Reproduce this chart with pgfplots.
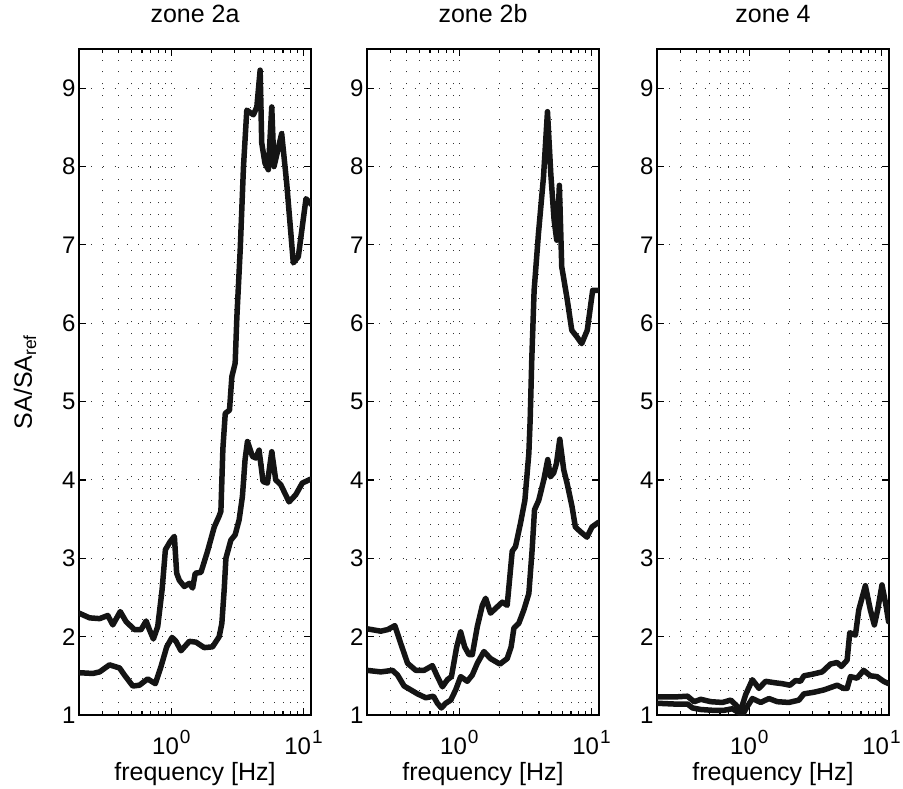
\documentclass[border=0pt]{standalone}
\usepackage{fontspec}
\setmainfont{Liberation Sans}
\usepackage{pgfplots}
\pgfplotsset{compat=1.18}
\newcommand{\pw}[1]{10\kern1pt\raisebox{11pt}{\fontsize{19}{19}\selectfont #1}}
\pgfplotsset{
  curve/.style={draw=black!92, line width=5.5pt, mark=none, line join=round, line cap=round},
  zonestyle/.style={
    scale only axis, width=232pt, height=666pt,
    xmin=0.2, xmax=11.4, ymin=1, ymax=9.5,
    xtick={1,10}, xticklabels={\pw{0},\pw{1}},
    minor xtick={0.3,0.4,0.5,0.6,0.7,0.8,0.9,2,3,4,5,6,7,8,9},
    ytick={1,2,3,4,5,6,7,8,9}, yticklabels={1,2,3,4,5,6,7,8,9},
    grid=both,
    major grid style={black!80, line width=0.9pt, dash pattern=on 0.9pt off 11pt},
    minor grid style={black!80, line width=0.9pt, dash pattern=on 0.9pt off 11pt},
    tick align=inside,
    major tick length=7pt, minor tick length=4pt,
    every tick/.style={black, line width=1.2pt},
    axis line style={line width=1.6pt},
    tick label style={font=\fontsize{24}{28}\selectfont},
    xticklabel style={anchor=base, yshift=-39pt},
    label style={font=\fontsize{25}{29}\selectfont},
    xlabel style={at={([yshift=-65pt]axis description cs:0.5,0)}, anchor=base},
    ylabel style={at={([xshift=-47pt]axis description cs:0,0.5)}, anchor=base},
    title style={font=\fontsize{25}{29}\selectfont, at={([yshift=20pt]axis description cs:0.5,1)}, anchor=base},
    xlabel={frequency [Hz]},
  }
}
\begin{document}
\begin{tikzpicture}
\path[use as bounding box] (0,0) rectangle (903pt,788pt);
% ---------------- zone 2a
\begin{semilogxaxis}[zonestyle, at={(79pt,73pt)}, anchor=south west, title={zone 2a},
  ylabel={SA/SA\textsubscript{ref}}]
\addplot[curve] coordinates {
(0.2,2.30)(0.2404,2.24)(0.2864,2.23)(0.3305,2.27)(0.3606,2.15)(0.4102,2.32)(0.4550,2.19)
(0.5260,2.09)(0.5902,2.09)(0.6442,2.20)(0.6823,2.09)(0.7311,1.97)(0.7889,2.13)(0.8511,2.60)
(0.9016,3.11)(0.9772,3.21)(1.054,3.28)(1.097,2.81)(1.148,2.72)(1.253,2.64)(1.368,2.68)
(1.449,2.62)(1.517,2.81)(1.675,2.82)(1.879,3.09)(2.113,3.40)(2.301,3.54)(2.371,3.60)
(2.455,4.40)(2.559,4.85)(2.754,4.89)(2.871,5.32)(3.041,5.49)(3.133,6.08)(3.319,6.93)
(3.516,8.00)(3.724,8.72)(4.178,8.66)(4.436,8.76)(4.699,9.23)(4.831,8.30)(5.117,8.04)
(5.420,7.96)(5.754,8.76)(5.984,8.00)(6.839,8.42)(7.464,7.79)(8.375,6.77)(9.141,6.85)
(10.45,7.59)(11.59,7.51)};
\addplot[curve] coordinates {
(0.2,1.54)(0.2547,1.53)(0.2864,1.55)(0.3404,1.64)(0.4055,1.60)(0.4416,1.51)(0.5105,1.37)
(0.5728,1.38)(0.6622,1.46)(0.7568,1.40)(0.8356,1.62)(0.9226,1.87)(1.012,1.99)(1.084,1.94)
(1.183,1.82)(1.368,1.94)(1.535,1.93)(1.774,1.86)(2.051,1.87)(2.301,2.00)(2.411,2.17)
(2.512,2.60)(2.588,3.00)(2.818,3.23)(3.041,3.30)(3.258,3.49)(3.451,3.79)(3.614,4.26)
(3.767,4.49)(4.111,4.30)(4.355,4.28)(4.613,4.38)(4.943,3.98)(5.333,3.96)(5.754,4.36)
(6.166,4.00)(6.730,3.94)(7.780,3.72)(8.730,3.81)(9.795,3.96)(11.32,4.01)};
\end{semilogxaxis}
% ---------------- zone 2b
\begin{semilogxaxis}[zonestyle, at={(367pt,73pt)}, anchor=south west, title={zone 2b}]
\addplot[curve] coordinates {
(0.2,2.10)(0.2547,2.07)(0.2864,2.09)(0.3251,2.14)(0.3606,1.91)(0.4055,1.66)(0.4677,1.57)
(0.5408,1.57)(0.6252,1.63)(0.6823,1.49)(0.7447,1.36)(0.8110,1.45)(0.8710,1.49)(0.9550,1.87)
(1.023,2.06)(1.097,1.87)(1.183,1.77)(1.253,1.77)(1.368,2.13)(1.493,2.40)(1.581,2.49)
(1.722,2.30)(1.879,2.36)(2.113,2.44)(2.301,2.40)(2.512,3.09)(2.661,3.15)(2.904,3.45)
(3.133,3.74)(3.357,4.34)(3.436,4.77)(3.532,5.53)(3.681,6.42)(3.972,7.15)(4.335,7.87)
(4.645,8.70)(4.920,7.91)(5.212,7.32)(5.458,7.06)(5.623,7.49)(5.715,7.76)(5.957,6.72)
(6.501,6.34)(7.096,5.91)(7.727,5.83)(8.433,5.74)(9.290,5.91)(10.21,6.42)(11.45,6.42)};
\addplot[curve] coordinates {
(0.2,1.57)(0.2547,1.55)(0.3119,1.57)(0.3404,1.51)(0.3819,1.37)(0.4295,1.32)(0.4819,1.27)
(0.5572,1.22)(0.6368,1.24)(0.6823,1.15)(0.7311,1.09)(0.7889,1.15)(0.8610,1.19)(0.9376,1.32)
(1.023,1.49)(1.148,1.43)(1.253,1.51)(1.368,1.66)(1.535,1.81)(1.722,1.72)(2.028,1.65)
(2.301,1.72)(2.466,1.87)(2.588,2.11)(2.818,2.17)(3.076,2.34)(3.357,2.55)(3.556,3.11)
(3.707,3.62)(3.990,3.74)(4.355,4.00)(4.667,4.26)(4.887,4.04)(5.176,4.09)(5.433,4.21)
(5.754,4.52)(6.166,4.13)(6.531,3.96)(7.129,3.66)(7.551,3.40)(8.241,3.34)(9.247,3.27)
(10.09,3.40)(11.32,3.46)};
\end{semilogxaxis}
% ---------------- zone 4
\begin{semilogxaxis}[zonestyle, at={(657pt,73pt)}, anchor=south west, title={zone 4}]
\addplot[curve] coordinates {
(0.2,1.23)(0.2698,1.23)(0.3404,1.24)(0.3819,1.17)(0.4295,1.20)(0.5105,1.17)(0.6252,1.16)
(0.7228,1.19)(0.7889,1.13)(0.8610,1.06)(0.9376,1.26)(1.054,1.45)(1.183,1.34)(1.327,1.43)
(1.581,1.41)(1.774,1.40)(2.028,1.38)(2.239,1.44)(2.438,1.43)(2.588,1.50)(2.985,1.52)
(3.556,1.55)(4.111,1.65)(4.613,1.67)(4.977,1.62)(5.495,1.70)(5.754,2.05)(6.353,2.02)
(6.730,2.34)(7.551,2.65)(8.241,2.34)(8.831,2.15)(9.354,2.34)(10.09,2.66)(10.87,2.38)
(11.32,2.19)};
\addplot[curve] coordinates {
(0.2,1.15)(0.2698,1.14)(0.3404,1.14)(0.3715,1.09)(0.4295,1.07)(0.5260,1.06)(0.6442,1.06)
(0.7447,1.08)(0.8110,1.04)(0.8851,1.00)(0.9660,1.11)(1.054,1.21)(1.219,1.16)(1.406,1.21)
(1.626,1.17)(1.991,1.16)(2.371,1.19)(2.588,1.27)(3.076,1.29)(3.664,1.32)(4.613,1.38)
(5.176,1.34)(5.495,1.34)(5.821,1.49)(6.531,1.47)(7.328,1.57)(8.241,1.50)(9.247,1.49)
(10.38,1.43)(11.32,1.40)};
\end{semilogxaxis}
\end{tikzpicture}
\end{document}
